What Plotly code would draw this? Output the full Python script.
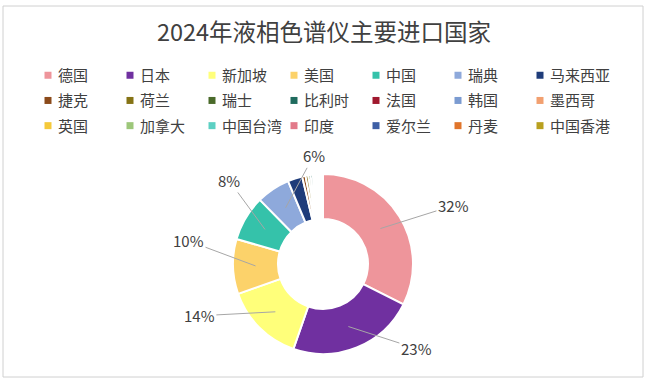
import plotly.graph_objects as go
import math

countries = ["德国", "日本", "新加坡", "美国", "中国", "瑞典", "马来西亚",
             "捷克", "荷兰", "瑞士", "比利时", "法国", "韩国", "墨西哥",
             "英国", "加拿大", "中国台湾", "印度", "爱尔兰", "丹麦", "中国香港"]
shares = [32.2, 22.8, 14.2, 9.8, 8.1, 6.0, 2.6,
          0.6, 0.5, 0.4, 0.4, 0.3, 0.3, 0.2,
          0.2, 0.2, 0.2, 0.1, 0.1, 0.1, 0.1]
colors = ["#EE959B", "#7030A0", "#FFFF7A", "#FCD26A", "#35C2AA", "#8EA9DB", "#1F3C7A",
          "#8B4A1A", "#857315", "#4A6A2A", "#1F6B5E", "#A0182E", "#7B9BD1", "#F2A070",
          "#F5C93A", "#9DC77A", "#5DD0C3", "#E27A8A", "#3E5FA5", "#E0752B", "#B9A01F"]
label_names = ["德国", "日本", "新加坡", "美国", "中国", "瑞典"]
label_offsets = [(73, -23), (68, 22), (-76, 4), (-67, -25), (-36, -49), (28, -52)]

W, H = 648, 381
cx_px, cy_px, R = 323, 264, 90

fig = go.Figure(go.Pie(
    labels=countries, values=shares, sort=False, direction="clockwise", rotation=0,
    hole=0.5, textinfo="none", hoverinfo="label+percent",
    marker=dict(colors=colors, line=dict(color="white", width=2)),
    domain=dict(x=[(cx_px - R) / W, (cx_px + R) / W],
                y=[(H - cy_px - R) / H, (H - cy_px + R) / H]),
))

total = sum(shares)
cum = 0.0
annotations = []
for name, v in zip(countries, shares):
    mid = (cum + v / 2) / total * 2 * math.pi
    cum += v
    if name in label_names:
        ax, ay = label_offsets[label_names.index(name)]
        r = 0.75 * R
        px = cx_px + r * math.sin(mid)
        py = cy_px - r * math.cos(mid)
        annotations.append(dict(
            x=px / W, y=1 - py / H, xref="paper", yref="paper",
            text=f"{round(v / total * 100)}%", showarrow=True, arrowhead=0,
            arrowcolor="#A6A6A6", arrowwidth=1, ax=ax, ay=ay,
            font=dict(size=15, color="#404040", family="Noto Sans CJK SC")))

fig.update_layout(
    width=W, height=H, margin=dict(l=0, r=0, t=0, b=0),
    paper_bgcolor="white", plot_bgcolor="white",
    font=dict(family="Noto Sans CJK SC", color="#404040"),
    title=dict(text="2024年液相色谱仪主要进口国家", x=0.5, xanchor="center",
               y=1 - 33 / H, yanchor="middle",
               font=dict(size=23.5, color="#404040", family="Noto Sans CJK SC")),
    legend=dict(orientation="h", x=28 / W, xanchor="left", y=1 - 59 / H, yanchor="top",
                entrywidth=37, entrywidthmode="pixels", traceorder="normal",
                font=dict(size=15, color="#404040", family="Noto Sans CJK SC"),
                itemclick=False, itemdoubleclick=False),
    annotations=annotations,
    shapes=[dict(type="rect", xref="paper", yref="paper",
                 x0=3 / W, x1=643 / W, y0=1 - 377 / H, y1=1 - 6 / H,
                 line=dict(color="#D0D0D0", width=1), fillcolor="rgba(0,0,0,0)")],
)

post_js = """
document.body.style.margin = '0';
var gd = document.getElementById('{plot_id}');
function fixLegend() {
  gd.querySelectorAll('.legend path.legendpie').forEach(function (p) {
    p.setAttribute('d', 'M3.5,3.5H-3.5V-3.5H3.5Z');
    p.style.strokeWidth = '0px';
  });
  gd.querySelectorAll('.legend text.legendtext').forEach(function (t) {
    t.setAttribute('x', '30');
    t.querySelectorAll('tspan').forEach(function (s) {
      if (s.hasAttribute('x')) { s.setAttribute('x', '30'); }
    });
  });
  gd.querySelectorAll('.legend [clip-path]').forEach(function (e) {
    e.removeAttribute('clip-path');
  });
  var items = gd.querySelectorAll('.legend g.traces');
  var y0 = null;
  items.forEach(function (g) {
    var m = /translate\\(\\s*([-\\d.]+)[ ,]+([-\\d.]+)\\s*\\)/.exec(g.getAttribute('transform') || '');
    if (!m) { return; }
    var y = parseFloat(m[2]);
    if (y0 === null || y < y0) { y0 = y; }
  });
  items.forEach(function (g) {
    var m = /translate\\(\\s*([-\\d.]+)[ ,]+([-\\d.]+)\\s*\\)/.exec(g.getAttribute('transform') || '');
    if (!m || y0 === null) { return; }
    var x = parseFloat(m[1]);
    var y = parseFloat(m[2]);
    var ny = y0 + (y - y0) * 25.2 / 22.5;
    g.setAttribute('transform', 'translate(' + x + ',' + ny + ')');
  });
}
fixLegend();
"""

fig.write_html("out.html", config={"displayModeBar": False}, post_script=post_js)
